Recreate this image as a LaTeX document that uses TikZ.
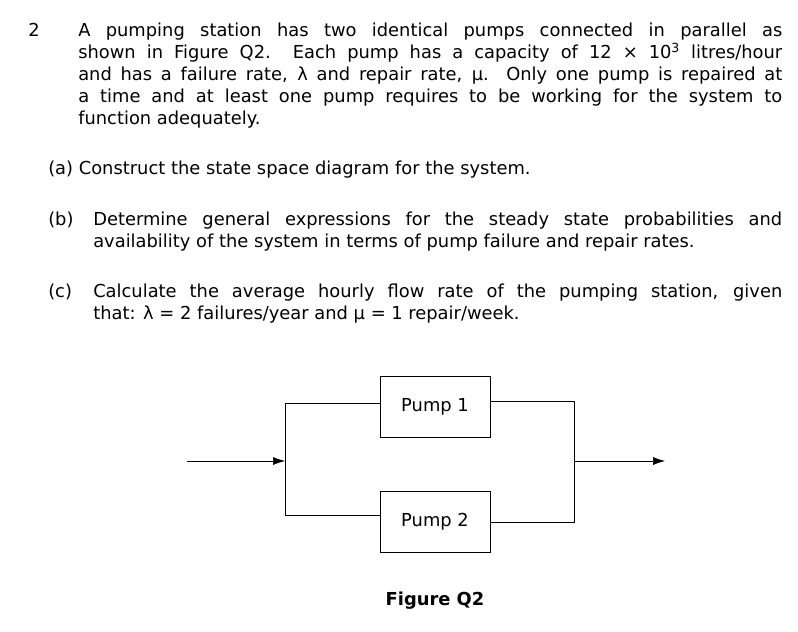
\documentclass[tikz,border=0pt]{standalone}
\usepackage{fontspec}
\setmainfont{DejaVu Sans}
\usetikzlibrary{arrows.meta,positioning}

\tikzset{
  txt/.style = {anchor=base west, inner sep=0pt, font=\fontsize{13.4}{15}\selectfont},
  pump/.style = {draw, minimum width=82.5pt, minimum height=45.75pt, inner sep=0pt, font=\fontsize{13.4}{15}\selectfont},
  flow/.style = {-{Latex[length=9pt,width=6pt]}}
}
\newcommand{\fullline}[2]{\makebox[#1][s]{#2}}

\begin{document}
\begin{tikzpicture}[x=0.75pt, y=-0.75pt]
\useasboundingbox (0,0) rectangle (798,631);

% question text
\node[txt] (num) at (28,37) {2};
\node[txt] (l1) at (78,37) {\fullline{528pt}{A pumping station has two identical pumps connected in parallel as}};
\node[txt] (l2) at (78,59) {\fullline{528pt}{shown in Figure Q2.\ \ Each pump has a capacity of 12 × 10\textsuperscript{3} litres/hour}};
\node[txt] (l3) at (78,81) {\fullline{528pt}{and has a failure rate, λ and repair rate, μ.\ \ Only one pump is repaired at}};
\node[txt] (l4) at (78,103) {\fullline{528pt}{a time and at least one pump requires to be working for the system to}};
\node[txt] (l5) at (78,125) {function adequately.};

\node[txt] (qa) at (48,174) {(a) Construct the state space diagram for the system.};
\node[txt] (qb) at (48,225) {(b)};
\node[txt] (b1) at (93,225) {\fullline{516.75pt}{Determine general expressions for the steady state probabilities and}};
\node[txt] (b2) at (93,247) {availability of the system in terms of pump failure and repair rates.};
\node[txt] (qc) at (48,297) {(c)};
\node[txt] (c1) at (93,297) {\fullline{516.75pt}{Calculate the average hourly flow rate of the pumping station, given}};
\node[txt] (c2) at (93,319) {that: λ = 2 failures/year and μ = 1 repair/week.};

% block diagram
\node[pump] (p1) at (435,407) {Pump 1};
\node[pump] (p2) at (435,522) {Pump 2};
\coordinate (in) at (187,461);
\coordinate (lj) at (285,461);
\coordinate (lt) at (285,403);
\coordinate (lb) at (285,515);
\coordinate (rj) at (574,461);
\coordinate (rt) at (574,401);
\coordinate (rb) at (574,522);
\coordinate (out) at (665,461);

\draw[flow] (in) -- (lj);
\draw (lt) -- (lb);
\draw (lt) -- (lt -| p1.west);
\draw (lb) -- (lb -| p2.west);
\draw (rt -| p1.east) -- (rt) -- (rb) -- (rb -| p2.east);
\draw[flow] (rj) -- (out);

\node[txt, anchor=base, font=\fontsize{13.4}{15}\selectfont\bfseries] (cap) at (435,605) {Figure Q2};
\end{tikzpicture}
\end{document}
